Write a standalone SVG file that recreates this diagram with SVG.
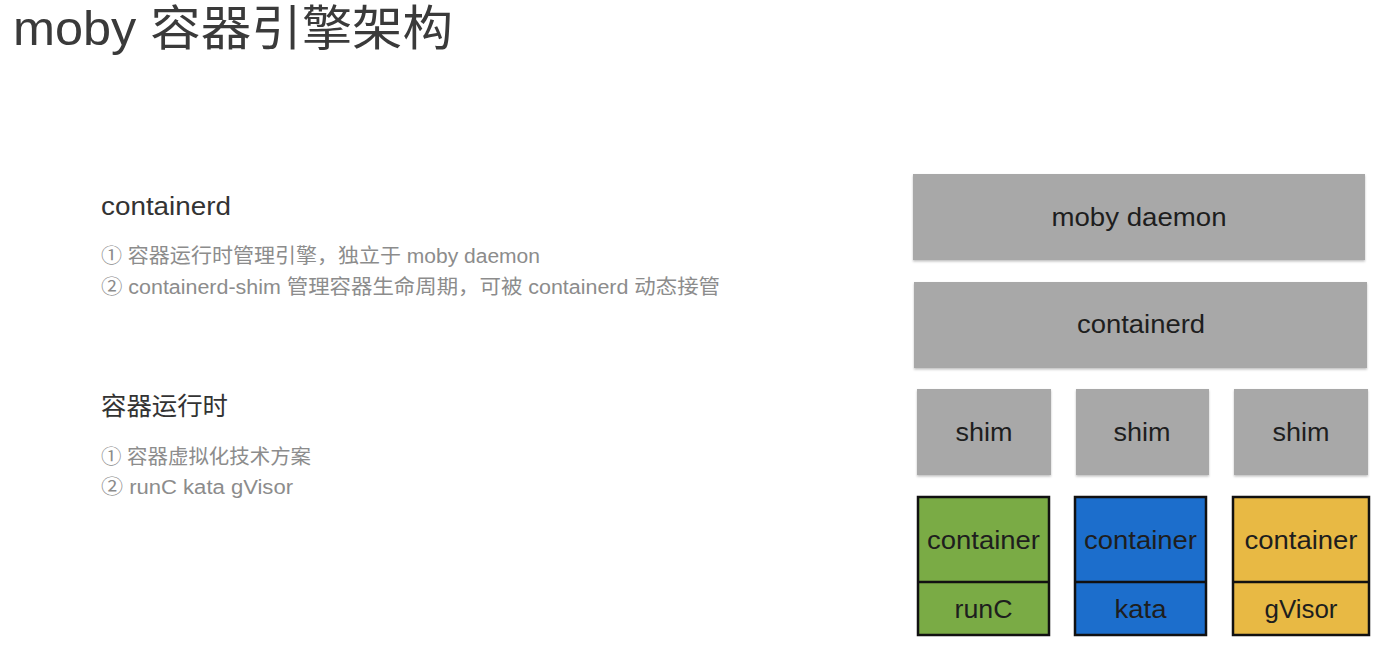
<svg xmlns="http://www.w3.org/2000/svg" width="1394" height="652" viewBox="0 0 1394 652">
<style>
text{font-family:"Liberation Sans","Noto Sans CJK SC",sans-serif}
.title{font-size:48px;fill:#3a3a3a}
.head{font-size:25px;fill:#333}
.sub{font-size:20px;fill:#8c8c8c}
.lbl{font-size:25px;fill:#1e1e1e;text-anchor:middle}
.gray{fill:#a8a8a8}
.col{stroke:#111;stroke-width:2.5}
</style>
<defs>
<filter id="sh" x="-5%" y="-5%" width="110%" height="115%">
<feDropShadow dx="0" dy="1.5" stdDeviation="1.2" flood-color="#000" flood-opacity="0.25"/>
</filter>
</defs>
<rect width="1394" height="652" fill="#fff"/>
<g id="title"><text class="title" x="13" y="45" textLength="440" lengthAdjust="spacingAndGlyphs">moby 容器引擎架构</text></g>
<g id="notes">
<text class="head" x="101" y="215" textLength="130" lengthAdjust="spacingAndGlyphs">containerd</text>
<text class="sub" x="101" y="263" textLength="439" lengthAdjust="spacingAndGlyphs">① 容器运行时管理引擎，独立于 moby daemon</text>
<text class="sub" x="101" y="294" textLength="619" lengthAdjust="spacingAndGlyphs">② containerd-shim 管理容器生命周期，可被 containerd 动态接管</text>
<text class="head" x="101" y="415" textLength="127" lengthAdjust="spacingAndGlyphs">容器运行时</text>
<text class="sub" x="101" y="464" textLength="210" lengthAdjust="spacingAndGlyphs">① 容器虚拟化技术方案</text>
<text class="sub" x="101" y="494" textLength="192" lengthAdjust="spacingAndGlyphs">② runC kata gVisor</text>
</g>
<g id="connectors"/>
<g id="moby-daemon"><rect class="gray" filter="url(#sh)" x="913" y="174" width="452" height="86"/><text class="lbl" x="1139" y="226" textLength="175" lengthAdjust="spacingAndGlyphs">moby daemon</text></g>
<g id="containerd"><rect class="gray" filter="url(#sh)" x="914" y="282" width="453" height="86"/><text class="lbl" x="1141" y="333" textLength="128" lengthAdjust="spacingAndGlyphs">containerd</text></g>
<g id="shim1"><rect class="gray" filter="url(#sh)" x="917" y="389" width="134" height="86"/><text class="lbl" x="984" y="441" textLength="57" lengthAdjust="spacingAndGlyphs">shim</text></g>
<g id="shim2"><rect class="gray" filter="url(#sh)" x="1076" y="389" width="133" height="86"/><text class="lbl" x="1142" y="441" textLength="57" lengthAdjust="spacingAndGlyphs">shim</text></g>
<g id="shim3"><rect class="gray" filter="url(#sh)" x="1234" y="389" width="134" height="86"/><text class="lbl" x="1301" y="441" textLength="57" lengthAdjust="spacingAndGlyphs">shim</text></g>
<g id="runc">
<rect class="col" fill="#7aab45" x="918" y="497" width="131" height="138"/>
<line class="col" x1="918" y1="582" x2="1049" y2="582"/>
<text class="lbl" x="983.5" y="549" textLength="113" lengthAdjust="spacingAndGlyphs">container</text>
<text class="lbl" x="983.5" y="618" textLength="58" lengthAdjust="spacingAndGlyphs">runC</text>
</g>
<g id="kata">
<rect class="col" fill="#1c6ecc" x="1075" y="497" width="131" height="138"/>
<line class="col" x1="1075" y1="582" x2="1206" y2="582"/>
<text class="lbl" x="1140.5" y="549" textLength="113" lengthAdjust="spacingAndGlyphs">container</text>
<text class="lbl" x="1140.5" y="618" textLength="52" lengthAdjust="spacingAndGlyphs">kata</text>
</g>
<g id="gvisor">
<rect class="col" fill="#e8b944" x="1233" y="497" width="136" height="138"/>
<line class="col" x1="1233" y1="582" x2="1369" y2="582"/>
<text class="lbl" x="1301" y="549" textLength="113" lengthAdjust="spacingAndGlyphs">container</text>
<text class="lbl" x="1301" y="618" textLength="73" lengthAdjust="spacingAndGlyphs">gVisor</text>
</g>
</svg>
